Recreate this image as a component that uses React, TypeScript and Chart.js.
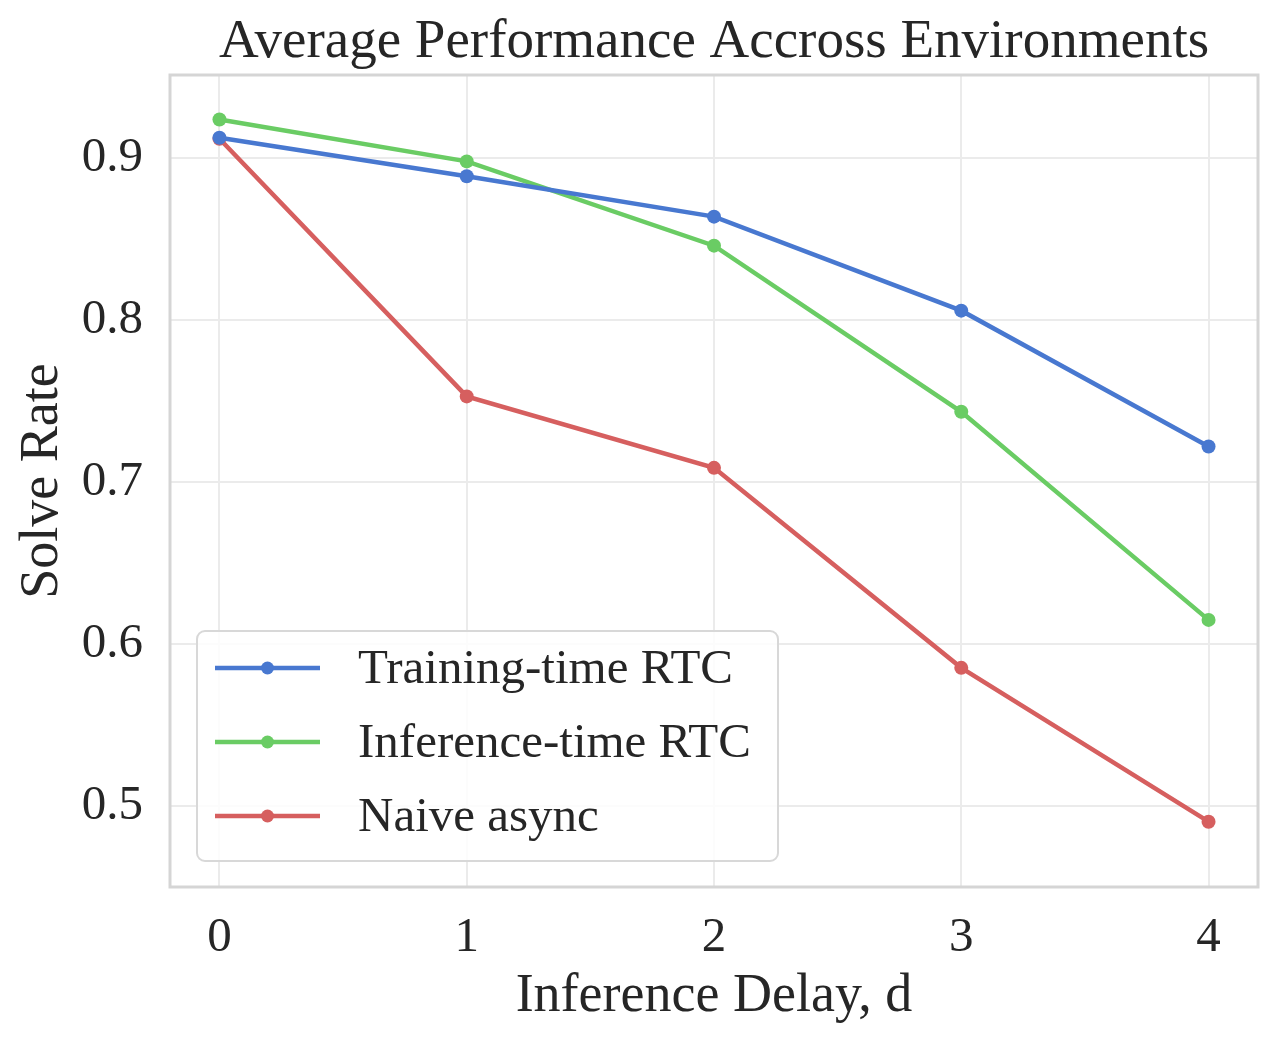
import React, { useEffect, useRef } from "react";
import { Chart, registerables } from "chart.js";

Chart.register(...registerables);

const TITLE = "Average Performance Accross Environments";
const X_TITLE = "Inference Delay, d";
const Y_TITLE = "Solve Rate";

const delays = [0, 1, 2, 3, 4];
const xTickValues = [0, 1, 2, 3, 4];
const yTickValues = [0.5, 0.6, 0.7, 0.8, 0.9];

const seriesNames = ["Training-time RTC", "Inference-time RTC", "Naive async"];
const trainingTimeRTC = [0.9123, 0.8885, 0.8636, 0.8056, 0.7218];
const inferenceTimeRTC = [0.9235, 0.8977, 0.8457, 0.7432, 0.6148];
const naiveAsync = [0.9117, 0.7527, 0.7086, 0.5852, 0.4903];
const seriesColors = ["#4878d0", "#6acc64", "#d65f5f"];

const FONT = '"Liberation Serif", "Times New Roman", serif';
const TEXT = "#262626";

const overlayPlugin = {
  id: "overlay",
  beforeDatasetsDraw(chart: any) {
    const { ctx, chartArea } = chart;
    ctx.save();
    ctx.strokeStyle = "#d5d5d5";
    ctx.lineWidth = 3;
    ctx.strokeRect(
      chartArea.left,
      chartArea.top,
      chartArea.right - chartArea.left,
      chartArea.bottom - chartArea.top
    );
    ctx.restore();
  },
  afterDraw(chart: any) {
    const { ctx, chartArea } = chart;
    ctx.save();
    // title
    ctx.font = `55px ${FONT}`;
    ctx.fillStyle = TEXT;
    ctx.textAlign = "center";
    ctx.textBaseline = "middle";
    ctx.fillText(TITLE, (chartArea.left + chartArea.right) / 2, 43);

    // legend
    const bx = chartArea.left + 27;
    const bw = 581;
    const bh = 230;
    const by = chartArea.bottom - 26 - bh;
    ctx.beginPath();
    (ctx as any).roundRect(bx, by, bw, bh, 8);
    ctx.fillStyle = "rgba(255,255,255,0.85)";
    ctx.fill();
    ctx.strokeStyle = "#d8d8d8";
    ctx.lineWidth = 2;
    ctx.stroke();

    ctx.font = `49px ${FONT}`;
    ctx.textAlign = "left";
    chart.data.datasets.forEach((ds: any, i: number) => {
      const cy = by + 37 + i * 74;
      const x0 = bx + 18;
      const x1 = bx + 123;
      ctx.strokeStyle = ds.borderColor;
      ctx.lineWidth = 4.5;
      ctx.beginPath();
      ctx.moveTo(x0, cy);
      ctx.lineTo(x1, cy);
      ctx.stroke();
      ctx.fillStyle = ds.borderColor;
      ctx.beginPath();
      ctx.arc((x0 + x1) / 2, cy, 6.5, 0, Math.PI * 2);
      ctx.fill();
      ctx.fillStyle = TEXT;
      ctx.fillText(ds.label, bx + 161, cy + 2);
    });
    ctx.restore();
  },
};

export default function App() {
  const ref = useRef<HTMLCanvasElement | null>(null);

  useEffect(() => {
    if (!ref.current) return;
    const allSeries = [trainingTimeRTC, inferenceTimeRTC, naiveAsync];
    const chart = new Chart(ref.current, {
      type: "line",
      data: {
        datasets: allSeries.map((vals, i) => ({
          label: seriesNames[i],
          data: delays.map((d, j) => ({ x: d, y: vals[j] })),
          borderColor: seriesColors[i],
          backgroundColor: seriesColors[i],
          borderWidth: 4.5,
          pointRadius: 7,
          pointHoverRadius: 7,
          pointBorderWidth: 0,
          tension: 0,
        })),
      },
      options: {
        responsive: false,
        animation: false,
        devicePixelRatio: 1,
        layout: { padding: { top: 75, right: 22, bottom: 0, left: 0 } },
        plugins: {
          legend: { display: false },
          title: { display: false },
          tooltip: { enabled: false },
        },
        scales: {
          x: {
            type: "linear",
            min: -0.2,
            max: 4.2,
            afterBuildTicks: (s: any) => {
              s.ticks = xTickValues.map((v) => ({ value: v }));
            },
            afterFit: (s: any) => {
              s.height = 160;
            },
            grid: { color: "#ebebeb", lineWidth: 2, drawTicks: false },
            border: { display: false },
            ticks: {
              padding: 22,
              color: TEXT,
              font: { family: FONT, size: 49 },
              callback: (v: any) => String(v),
            },
            title: {
              display: true,
              text: X_TITLE,
              color: TEXT,
              font: { family: FONT, size: 54 },
              padding: { top: 0, bottom: 18 },
            },
          },
          y: {
            type: "linear",
            min: 0.45,
            max: 0.951,
            afterBuildTicks: (s: any) => {
              s.ticks = yTickValues.map((v) => ({ value: v }));
            },
            afterFit: (s: any) => {
              s.width = 170;
            },
            grid: { color: "#ebebeb", lineWidth: 2, drawTicks: false },
            border: { display: false },
            ticks: {
              padding: 27,
              color: TEXT,
              font: { family: FONT, size: 49 },
              callback: (v: any) => Number(v).toFixed(1),
            },
            title: {
              display: true,
              text: Y_TITLE,
              color: TEXT,
              font: { family: FONT, size: 54 },
              padding: { top: 10, bottom: 0 },
            },
          },
        },
      },
      plugins: [overlayPlugin],
    });
    return () => chart.destroy();
  }, []);

  return (
    <div style={{ position: "absolute", left: 0, top: 0, width: 1280, height: 1047, background: "#fff" }}>
      <canvas ref={ref} width={1280} height={1047} />
    </div>
  );
}
